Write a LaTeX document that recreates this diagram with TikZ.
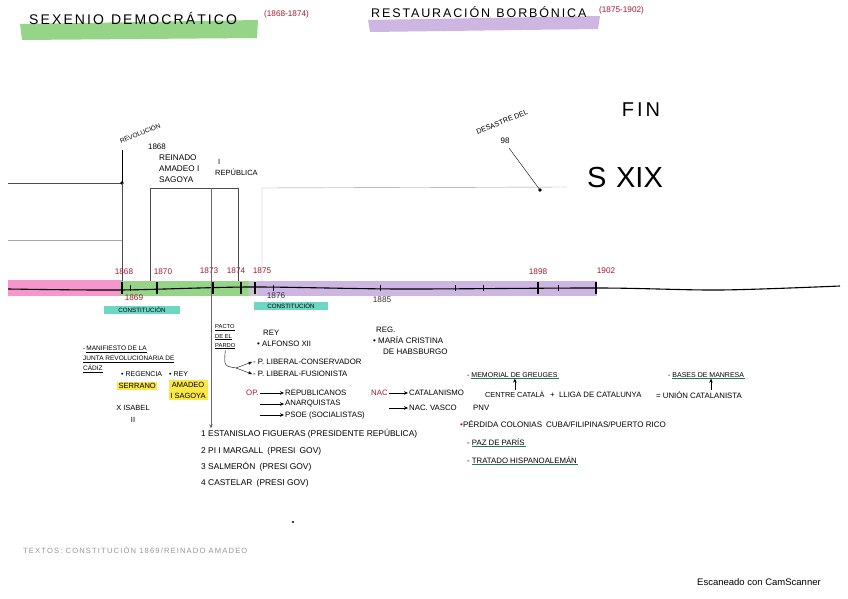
\documentclass[tikz,border=0pt]{standalone}
\usepackage{fontspec}
\setmainfont{Liberation Sans}
\newfontfamily\handwide[LetterSpace=15]{Liberation Sans}
\usetikzlibrary{arrows.meta,positioning}
\definecolor{hlgreen}{RGB}{150,212,135}
\definecolor{hlpurple}{RGB}{205,182,226}
\definecolor{hlpink}{RGB}{245,150,205}
\definecolor{hlteal}{RGB}{110,215,195}
\definecolor{hlyellow}{RGB}{250,232,70}
\definecolor{inkred}{RGB}{165,25,50}
\definecolor{inkgreen}{RGB}{40,120,85}
\definecolor{inkgray}{RGB}{150,150,150}

\begin{document}
\begin{tikzpicture}[x=1pt,y=-1pt,
  note/.style={font=\fontsize{7.8}{9}\selectfont, inner sep=1pt, anchor=west},
  bignote/.style={font=\fontsize{8.4}{9}\selectfont, inner sep=1pt, anchor=west},
  heading/.style={font=\handwide\fontsize{12.5}{14}\selectfont, inner sep=1pt, anchor=west},
  year/.style={font=\fontsize{8.2}{9}\selectfont, text=inkred, inner sep=1pt},
  penlabel/.style={font=\fontsize{8}{9}\selectfont, inner sep=1pt},
  hilite/.style={fill=#1, inner sep=1.5pt},
  tick/.style={line width=1.1pt},
  arrow/.style={-{Stealth[length=4pt, width=3.5pt]}, thin},
  guide/.style={black!70, thin},
  gline/.style={inkgreen, thick},
]
  \useasboundingbox (0,0) rectangle (848,599);
  \fill[white] (0,0) rectangle (848,599);

  % titles
  \fill[hlgreen] (20,24) -- (258,20) -- (257,38) -- (22,40) -- cycle;
  \fill[hlpurple] (368,20) -- (600,16) -- (598,29) -- (370,32) -- cycle;
  \node[heading, font=\handwide\fontsize{14}{16}\selectfont] (sexenio) at (28,18) {SEXENIO\enspace DEMOCRÁTICO};
  \node[year, anchor=west] (sexyrs) at (263,14) {(1868-1874)};
  \node[heading] (restau) at (370,12) {RESTAURACIÓN\enspace BORBÓNICA};
  \node[year, anchor=west] (restyrs) at (598,10) {(1875-1902)};

  % upper chart
  \draw[guide] (8,183) -- (122,183);
  \draw[black!35] (8,240) -- (122,240);
  \coordinate (rev) at (122,183);
  \draw[thick] (122,150) -- (rev);
  \fill (rev) circle (1.8);
  \node[penlabel, font=\fontsize{6.5}{7}\selectfont, rotate=22] (revol) at (140,133) {REVOLUCIÓN};
  \node[penlabel] (rev1868) at (157,147) {1868};
  \draw[guide] (150,286) -- (150,188) -- (211,188) -- (211,286);
  \draw[guide] (211,188) -- (238,188) -- (238,286);
  \draw[black!40] (262,286) -- (262,188) -- (567,187);
  \draw[guide] (rev) -- (122,286);
  \node[penlabel, font=\fontsize{8.2}{11}\selectfont, align=left, anchor=west] (amadeo) at (158,169) {REINADO\\AMADEO I\\SAGOYA};
  \node[penlabel, font=\fontsize{7.5}{11}\selectfont, align=left, anchor=west] (repub) at (214,167) {\hspace*{3pt}I\\REPÚBLICA};
  \coordinate (desastre) at (540,190);
  \node[penlabel, font=\fontsize{7.2}{8}\selectfont, rotate=22] (desnote) at (502,122) {DESASTRE DEL};
  \node[penlabel] (des98) at (505,141) {98};
  \draw[thin] (des98.south) ++(4,3) -- (desastre);
  \fill (desastre) circle (1.8);
  \node[font=\fontsize{20}{22}\selectfont\handwide] (fin) at (641,110) {FIN};
  \node[font=\fontsize{29}{30}\selectfont] (sxix) at (625,178) {S\,\,XIX};

  % timeline
  \fill[hlpink] (8,280) rectangle (122,296);
  \fill[hlgreen] (120,281) rectangle (252,296);
  \fill[hlpurple] (250,281) rectangle (597,296);
  \fill[black!20, opacity=.5] (248,281) rectangle (258,296);
  \draw[line width=1.1pt] plot[smooth] coordinates {(8,289) (120,290) (250,287) (400,289) (600,288) (720,290) (840,286)};
  \foreach \tx in {122,157,213,241,255,538,596}
    \draw[tick] (\tx,282) -- (\tx,294);
  \foreach \tx in {130,273,380,455,483,558}
    \draw[thin] (\tx,285) -- (\tx,291);
  \node[year] (y1868) at (124,272) {1868};
  \node[year] (y1870) at (163,272) {1870};
  \node[year] (y1873) at (209,271) {1873};
  \node[year] (y1874) at (236,271) {1874};
  \node[year] (y1875) at (262,271) {1875};
  \node[year] (y1898) at (538,272) {1898};
  \node[year] (y1902) at (606,271) {1902};
  \node[year] (y1869) at (134,298) {1869};
  \node[year, text=black!80] (y1876) at (276,296) {1876};
  \node[year, text=black!80] (y1885) at (382,300) {1885};
  \node[note, hilite=hlteal, font=\fontsize{6.2}{7}\selectfont, anchor=center, minimum width=76pt] (const1) at (142,310) {CONSTITUCIÓN};
  \node[note, hilite=hlteal, font=\fontsize{6.2}{7}\selectfont, anchor=center, minimum width=74pt] (const2) at (291,306) {CONSTITUCIÓN};

  % sexenio notes
  \node[note, align=left, font=\fontsize{6.5}{10}\selectfont] (manif) at (82,359) {-\,\underline{MANIFIESTO DE LA}\\\underline{JUNTA REVOLUCIONARIA DE}\\\underline{CÁDIZ}};
  \node[note, font=\fontsize{7}{8}\selectfont] (regencia) at (120,374) {• REGENCIA};
  \node[note, font=\fontsize{7}{8}\selectfont] (rey1) at (168,374) {• REY};
  \node[note, hilite=hlyellow, font=\fontsize{7.5}{8}\selectfont] (serrano) at (117,386) {SERRANO};
  \node[note, hilite=hlyellow, font=\fontsize{7.5}{11}\selectfont, align=center, anchor=center, minimum width=39pt] (amadeo2) at (188,390) {AMADEO\\I SAGOYA};
  \node[note, align=center, anchor=center, font=\fontsize{7.5}{12}\selectfont] (isabel) at (133,414) {X ISABEL\\II};

  % restauracion notes
  \node[note, align=left, font=\fontsize{5.8}{9}\selectfont] (pacto) at (214,337) {\underline{PACTO}\\\underline{DE EL}\\\underline{PARDO}};
  \node[note] (rey2) at (262,333) {REY};
  \node[note] (alfonso) at (256,344) {• ALFONSO XII};
  \node[note] (conserv) at (252,362) {- P. LIBERAL-CONSERVADOR};
  \node[note] (fusion) at (252,374) {- P. LIBERAL-FUSIONISTA};
  \coordinate (turn) at (236,368);
  \draw[thin] (pacto.south) .. controls (224,366) .. (turn);
  \draw[arrow] (turn) -- (conserv.west);
  \draw[arrow] (turn) -- (fusion.west);
  \node[note, text=inkred] (op) at (245,393) {OP.};
  \node[note] (republ) at (284,393) {REPUBLICANOS};
  \node[note] (anarq) at (284,404) {ANARQUISTAS};
  \node[note] (psoe) at (284,415) {PSOE (SOCIALISTAS)};
  \draw[arrow] (op.east) -- (republ.west);
  \draw[arrow] (anarq.west -| op.east) -- (anarq.west);
  \draw[arrow] (psoe.west -| op.east) -- (psoe.west);
  \node[note] (reg) at (375,330) {REG.};
  \node[note, align=left, font=\fontsize{8}{11}\selectfont] (cristina) at (372,346) {• MARÍA CRISTINA\\\hspace*{10pt}DE HABSBURGO};
  \node[note, text=inkred] (nac) at (370,393) {NAC};
  \node[note] (catal) at (408,393) {CATALANISMO};
  \node[note] (vasco) at (408,408) {NAC. VASCO};
  \node[note] (pnv) at (472,408) {PNV};
  \draw[arrow] (nac.east) -- (catal.west);
  \draw[arrow] (vasco.west -| nac.east) -- (vasco.west);
  \node[note, font=\fontsize{7.3}{8}\selectfont] (centre) at (484,394) {CENTRE CATALÀ};
  \node[note] (lliga) at (549,395) {+\; LLIGA DE CATALUNYA};
  \node[note] (union) at (655,395) {= UNIÓN CATALANISTA};
  \node[note, font=\fontsize{7}{8}\selectfont] (memorial) at (466,375) {- MEMORIAL DE GREUGES};
  \node[note, font=\fontsize{7}{8}\selectfont] (manresa) at (667,375) {- BASES DE MANRESA};
  \draw[gline] ([xshift=5pt]memorial.south west) -- (memorial.south east);
  \draw[gline] ([xshift=5pt]manresa.south west) -- (manresa.south east);
  \draw[arrow] (centre.north) -- (centre.north |- memorial.south);
  \draw[arrow] ([xshift=12pt]union.north) -- ([xshift=12pt]union.north |- manresa.south);
  \node[note, font=\fontsize{8}{9}\selectfont] (perdida) at (459,424) {\textcolor{inkred}{•}PÉRDIDA COLONIAS\enspace CUBA/FILIPINAS/PUERTO RICO};
  \node[note] (paris) at (466,442) {- PAZ DE PARÍS};
  \node[note] (tratado) at (466,460) {- TRATADO HISPANOALEMÁN};
  \draw[gline] ([xshift=6pt]paris.south west) -- (paris.south east);
  \draw[gline] ([xshift=6pt]tratado.south west) -- (tratado.south east);

  % presidentes
  \node[bignote] (figueras) at (200,434) {1 ESTANISLAO FIGUERAS (PRESIDENTE REPÚBLICA)};
  \node[bignote] (margall) at (200,451) {2 PI I MARGALL\enspace (PRESI\enspace GOV)};
  \node[bignote] (salmeron) at (200,467) {3 SALMERÓN\enspace (PRESI GOV)};
  \node[bignote] (castelar) at (200,483) {4 CASTELAR\enspace (PRESI GOV)};
  \coordinate (repdown) at (211,188);
  \draw[arrow, black!60] (repdown) -- (repdown |- figueras.north);

  \fill (293,522) circle (1.2);
  \node[note, text=inkgray, font=\handwide\fontsize{7.6}{8}\selectfont] (textos) at (22,550) {TEXTOS: CONSTITUCIÓN 1869/REINADO AMADEO};
  \node[note, font=\fontsize{9.5}{10}\selectfont] (scanner) at (696,582) {Escaneado con CamScanner};
\end{tikzpicture}
\end{document}
